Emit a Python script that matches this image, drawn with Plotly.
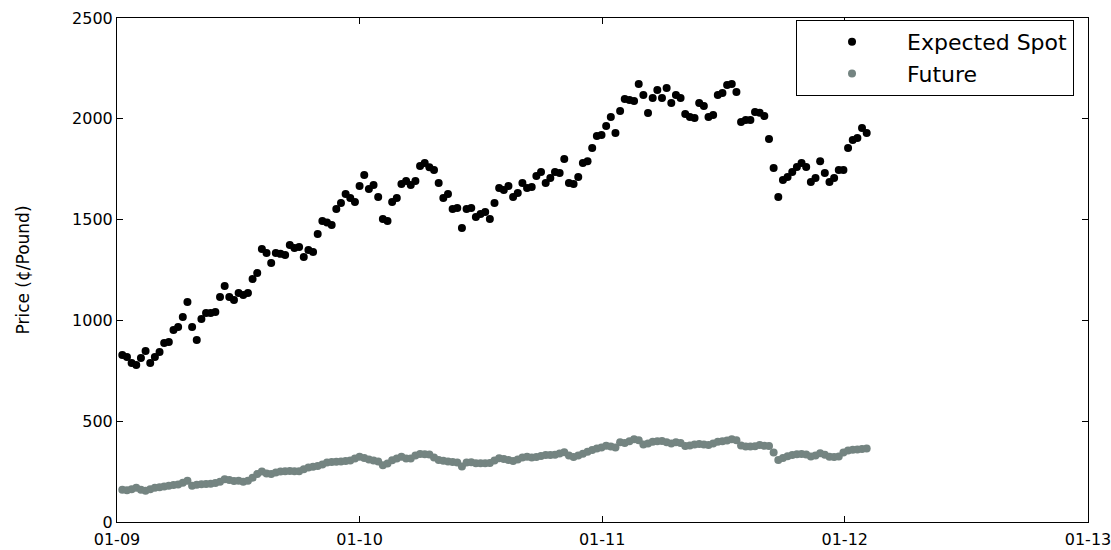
import pandas as pd
import plotly.graph_objects as go

start_date = "2009-01-09"
n_weeks = 161
dates = pd.date_range(start_date, periods=n_weeks, freq="7D")

expected_spot = [
    828, 818, 789, 779, 813, 848, 789, 818, 843, 888, 893, 952, 967, 1017, 1091, 967, 903, 1007, 1037, 1037, 1042, 1116, 1171, 1116, 1101, 1136, 1126,
    1136, 1205, 1235, 1354, 1334, 1285, 1334, 1330, 1324, 1374, 1359, 1364, 1314, 1349, 1339, 1428, 1493, 1485, 1473, 1552, 1582, 1627, 1607, 1587, 1667,
    1721, 1652, 1672, 1612, 1503, 1493, 1587, 1607, 1676, 1691, 1672, 1691, 1766, 1781, 1760, 1746, 1681, 1607, 1627, 1552, 1557, 1458, 1552, 1557, 1513, 1528, 1538, 1503, 1582, 1657,
    1647, 1667, 1612, 1632, 1681, 1657, 1662, 1716, 1736, 1681, 1706, 1736, 1731, 1800, 1681, 1676, 1711, 1781, 1790, 1855, 1915, 1920, 1964, 2009, 1930, 2039, 2098, 2093,
    2088, 2172, 2118, 2029, 2103, 2143, 2103, 2153, 2078, 2118, 2103, 2024, 2009, 2004, 2078, 2063, 2009, 2019, 2118, 2128, 2168, 2172, 2133, 1984, 1994, 1994,
    2034, 2030, 2014, 1900, 1756, 1612, 1696, 1711, 1736, 1761, 1781, 1761, 1686, 1706, 1790, 1731, 1686, 1706, 1746, 1746, 1855, 1895, 1905, 1954, 1930,
]

future = [
    160, 158, 162, 170, 160, 155, 162, 170, 172, 176, 180, 183, 186, 195, 205, 180, 185, 187, 188, 190,
    193, 200, 212, 208, 203, 204, 200, 205, 220, 238, 250, 240, 238, 245, 250, 252, 253, 252, 252, 262,
    270, 274, 278, 285, 295, 297, 299, 300, 302, 305, 315, 324, 318, 310, 305, 300, 282, 290, 306, 315,
    324, 315, 315, 330, 337, 336, 335, 320, 308, 304, 300, 298, 295, 275, 295, 296, 292, 291, 291, 293,
    305, 316, 312, 308, 302, 310, 320, 324, 320, 322, 328, 332, 332, 333, 340, 346, 330, 322, 330, 338,
    348, 357, 364, 370, 378, 375, 370, 395, 392, 400, 410, 405, 385, 390, 398, 400, 402, 396, 390, 395,
    392, 377, 380, 385, 387, 385, 382, 390, 398, 400, 404, 410, 405, 380, 374, 374, 376, 382, 378, 377,
    345, 308, 318, 326, 332, 336, 337, 335, 325, 330, 341, 333, 324, 322, 325, 345, 355, 358, 360, 362,
    365,
]

x_tick_vals = ["2009-01-01", "2010-01-01", "2011-01-01", "2012-01-01", "2013-01-01"]
x_tick_text = ["01-09", "01-10", "01-11", "01-12", "01-13"]
y_tick_vals = [0, 500, 1000, 1500, 2000, 2500]

FONT = "DejaVu Sans, Liberation Sans, Arial, sans-serif"

fig = go.Figure()
fig.add_trace(go.Scatter(
    x=dates, y=expected_spot, mode="markers", name="Expected Spot",
    marker=dict(color="#000000", size=8),
))
fig.add_trace(go.Scatter(
    x=dates, y=future, mode="markers", name="Future",
    marker=dict(color="#748481", size=8),
))

axis_common = dict(
    showline=True, linecolor="black", linewidth=1, mirror="ticks",
    ticks="inside", ticklen=6, tickcolor="black", showgrid=False, zeroline=False,
    automargin=False, ticklabeloverflow="allow",
)

fig.update_layout(
    width=1111, height=550,
    margin=dict(l=117, r=23, t=18, b=28),
    paper_bgcolor="white", plot_bgcolor="white",
    font=dict(family=FONT, color="black"),
    showlegend=True,
    legend=dict(
        x=0.9856, xanchor="right", y=0.996, yanchor="top",
        bgcolor="white", bordercolor="black", borderwidth=1,
        font=dict(family=FONT, size=22, color="black"),
        itemwidth=100,
    ),
    xaxis=dict(
        range=["2009-01-01", "2013-01-01"],
        tickvals=x_tick_vals, ticktext=x_tick_text,
        tickfont=dict(family=FONT, size=16, color="black"),
        ticklabelstandoff=3,
        **axis_common,
    ),
    yaxis=dict(
        range=[0, 2500], tickvals=y_tick_vals,
        tickfont=dict(family=FONT, size=16, color="black"),
        title=dict(text="Price (¢/Pound)", font=dict(family=FONT, size=17, color="black"), standoff=38),
        **axis_common,
    ),
)

fig.write_html("out.html")
